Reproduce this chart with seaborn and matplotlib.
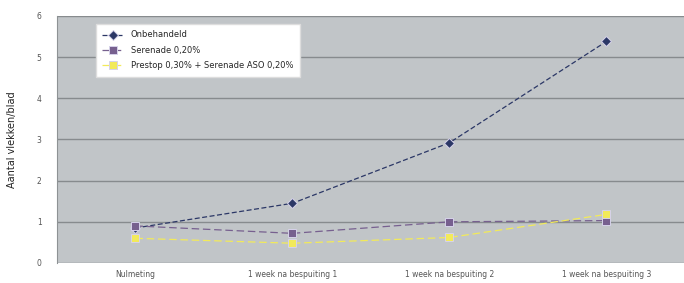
import numpy as np
import pandas as pd
import matplotlib
matplotlib.use("Agg")
import matplotlib.pyplot as plt
import seaborn as sns

# -----------------------------
# data
# -----------------------------
momenten = ["Nulmeting", "1 week na bespuiting 1", "1 week na bespuiting 2", "1 week na bespuiting 3"]
onbehandeld = [0.85, 1.45, 2.92, 5.38]
serenade = [0.9, 0.72, 1.0, 1.03]
combinatie = [0.6, 0.48, 0.62, 1.18]
labels = ["Onbehandeld", "Serenade 0,20%", "Prestop 0,30% + Serenade ASO 0,20%"]

df = pd.DataFrame({
    "Moment": momenten * 3,
    "Vlekken": onbehandeld + serenade + combinatie,
    "Behandeling": [labels[0]] * 4 + [labels[1]] * 4 + [labels[2]] * 4,
})

sns.set_style("white")
plt.rcParams["font.family"] = ["DejaVu Sans"]

fig = plt.figure(figsize=(6.84, 2.83), dpi=100)
ax = fig.add_axes([0.0833, 0.0707, 0.918, 0.873])
ax.set_facecolor("#c1c5c8")

styles = {
    labels[0]: dict(color="#2b3766", marker="D", ms=5.5, ls=(0, (4, 2))),
    labels[1]: dict(color="#77608f", marker="s", ms=6, ls=(0, (6, 3))),
    labels[2]: dict(color="#f2ea5a", marker="s", ms=6, ls=(0, (6, 3))),
}

for name in labels:
    st = styles[name]
    sub = df[df["Behandeling"] == name]
    sns.lineplot(data=sub, x="Moment", y="Vlekken", ax=ax, label=name,
                 color=st["color"], marker=st["marker"], markersize=st["ms"],
                 markeredgecolor="#d6d2ea", markeredgewidth=0.7,
                 linewidth=0.9, linestyle=st["ls"], sort=False)

ax.set_ylim(0, 6)
ax.set_xlim(-0.5, 3.5)
ax.set_yticks(range(0, 7))
ax.yaxis.grid(True, color="#878b8e", lw=1.0)
ax.set_axisbelow(True)
for s in ["top", "right", "bottom"]:
    ax.spines[s].set_visible(False)
ax.spines["left"].set_color("#8e9294")
ax.tick_params(axis="both", labelsize=5.5, colors="#555555", length=2)
ax.tick_params(axis="y", pad=9)
ax.tick_params(axis="x", pad=3)
ax.set_xlabel("")
ax.set_ylabel("Aantal vlekken/blad", fontsize=7, color="#222222", labelpad=14)

leg = ax.legend(loc="upper left", bbox_to_anchor=(0.055, 0.985), fontsize=6,
                frameon=True, fancybox=False, borderpad=0.8, labelspacing=0.75,
                handlelength=2.6, handletextpad=0.8)
leg.get_frame().set_facecolor("white")
leg.get_frame().set_edgecolor("#dddddd")
leg.get_frame().set_alpha(1.0)

fig.savefig("out.png", dpi=100)
